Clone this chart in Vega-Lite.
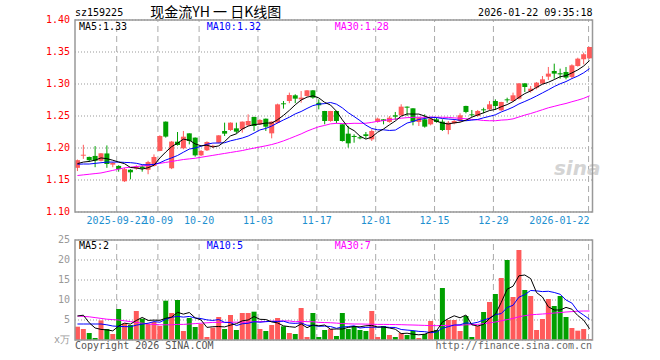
{
  "$schema": "https://vega.github.io/schema/vega-lite/v6.json",
  "width": 527.5,
  "height": 320,
  "autosize": {"type": "none"},
  "padding": {"left": 70, "top": 20, "right": 62.5, "bottom": 20},
  "background": "#FFFFFF",
  "config": {
    "view": {"stroke": null},
    "text": {"font": "DejaVu Sans Mono", "fontSize": 10}
  },
  "datasets": {
    "k": [
      {"i":0,"o":1.169,"h":1.182,"l":1.164,"c":1.181,"v":3.33,"m5":1.1756,"m10":1.1746,"m30":1.157,"v5":6.0,"v10":4.0,"v30":6.0},
      {"i":1,"o":1.188,"h":1.205,"l":1.183,"c":1.1895,"v":2.75,"m5":1.178,"m10":1.175,"m30":1.158,"v5":6.2,"v10":4.0,"v30":5.9},
      {"i":2,"o":1.186,"h":1.1865,"l":1.178,"c":1.181,"v":1.75,"m5":1.179,"m10":1.175,"m30":1.159,"v5":4.3,"v10":4.0,"v30":5.8},
      {"i":3,"o":1.1876,"h":1.203,"l":1.17,"c":1.18,"v":0.5,"m5":1.181,"m10":1.176,"m30":1.16,"v5":3.0,"v10":4.0,"v30":5.6},
      {"i":4,"o":1.18,"h":1.192,"l":1.179,"c":1.1917,"v":4.9,"m5":1.1845,"m10":1.177,"m30":1.161,"v5":2.65,"v10":4.0,"v30":5.4},
      {"i":5,"o":1.1915,"h":1.204,"l":1.169,"c":1.175,"v":2.75,"m5":1.1833,"m10":1.178,"m30":1.163,"v5":2.53,"v10":3.8,"v30":5.2},
      {"i":6,"o":1.174,"h":1.178,"l":1.17,"c":1.1768,"v":1.5,"m5":1.1809,"m10":1.178,"m30":1.165,"v5":2.28,"v10":3.5,"v30":5.1},
      {"i":7,"o":1.172,"h":1.173,"l":1.163,"c":1.167,"v":7.75,"m5":1.1781,"m10":1.178,"m30":1.167,"v5":3.48,"v10":3.4,"v30":5.0},
      {"i":8,"o":1.148,"h":1.169,"l":1.147,"c":1.167,"v":4.17,"m5":1.1755,"m10":1.1775,"m30":1.169,"v5":4.21,"v10":3.35,"v30":4.8},
      {"i":9,"o":1.166,"h":1.167,"l":1.151,"c":1.162,"v":3.75,"m5":1.1696,"m10":1.1771,"m30":1.17,"v5":3.98,"v10":3.32,"v30":4.6},
      {"i":10,"o":1.168,"h":1.173,"l":1.166,"c":1.171,"v":7.25,"m5":1.1688,"m10":1.1761,"m30":1.171,"v5":4.88,"v10":3.71,"v30":4.4},
      {"i":11,"o":1.171,"h":1.173,"l":1.163,"c":1.168,"v":5.33,"m5":1.167,"m10":1.174,"m30":1.172,"v5":5.65,"v10":3.97,"v30":4.2},
      {"i":12,"o":1.166,"h":1.18,"l":1.159,"c":1.178,"v":4.0,"m5":1.1692,"m10":1.1737,"m30":1.173,"v5":4.9,"v10":4.19,"v30":4.0},
      {"i":13,"o":1.172,"h":1.19,"l":1.171,"c":1.186,"v":4.5,"m5":1.173,"m10":1.1743,"m30":1.1745,"v5":4.97,"v10":4.59,"v30":3.9},
      {"i":14,"o":1.1954,"h":1.2198,"l":1.195,"c":1.2188,"v":3.5,"m5":1.1844,"m10":1.177,"m30":1.176,"v5":4.92,"v10":4.45,"v30":3.8},
      {"i":15,"o":1.2412,"h":1.2415,"l":1.2162,"c":1.2178,"v":9.83,"m5":1.1937,"m10":1.1812,"m30":1.1775,"v5":5.43,"v10":5.16,"v30":3.8},
      {"i":16,"o":1.1683,"h":1.211,"l":1.167,"c":1.21,"v":6.75,"m5":1.2021,"m10":1.1846,"m30":1.179,"v5":5.72,"v10":5.68,"v30":3.8},
      {"i":17,"o":1.2099,"h":1.225,"l":1.2037,"c":1.2047,"v":10.0,"m5":1.2075,"m10":1.1883,"m30":1.1805,"v5":6.92,"v10":5.91,"v30":3.9},
      {"i":18,"o":1.1995,"h":1.2266,"l":1.198,"c":1.2177,"v":2.25,"m5":1.2138,"m10":1.1934,"m30":1.182,"v5":6.47,"v10":5.72,"v30":3.9},
      {"i":19,"o":1.2229,"h":1.223,"l":1.2057,"c":1.2109,"v":5.5,"m5":1.2122,"m10":1.1983,"m30":1.183,"v5":6.87,"v10":5.89,"v30":4.0},
      {"i":20,"o":1.2162,"h":1.2165,"l":1.1865,"c":1.1885,"v":3.25,"m5":1.2064,"m10":1.2,"m30":1.184,"v5":5.55,"v10":5.49,"v30":4.1},
      {"i":21,"o":1.1885,"h":1.1969,"l":1.1875,"c":1.1953,"v":4.0,"m5":1.2034,"m10":1.2028,"m30":1.1855,"v5":5.0,"v10":5.36,"v30":4.2},
      {"i":22,"o":1.1964,"h":1.2104,"l":1.1953,"c":1.2094,"v":0.75,"m5":1.2044,"m10":1.2059,"m30":1.187,"v5":3.15,"v10":5.03,"v30":4.3},
      {"i":23,"o":1.2018,"h":1.205,"l":1.2,"c":1.2035,"v":3.08,"m5":1.2015,"m10":1.2077,"m30":1.1885,"v5":3.32,"v10":4.89,"v30":4.4},
      {"i":24,"o":1.2083,"h":1.22,"l":1.2073,"c":1.2198,"v":5.75,"m5":1.2033,"m10":1.2078,"m30":1.19,"v5":3.37,"v10":5.12,"v30":4.4},
      {"i":25,"o":1.2266,"h":1.2396,"l":1.2188,"c":1.2224,"v":2.75,"m5":1.2101,"m10":1.2082,"m30":1.1915,"v5":3.27,"v10":4.41,"v30":4.4},
      {"i":26,"o":1.2281,"h":1.24,"l":1.2266,"c":1.2396,"v":6.25,"m5":1.2189,"m10":1.2112,"m30":1.193,"v5":3.72,"v10":4.36,"v30":4.45},
      {"i":27,"o":1.2307,"h":1.2396,"l":1.2229,"c":1.2255,"v":2.5,"m5":1.2222,"m10":1.2133,"m30":1.1945,"v5":4.07,"v10":3.61,"v30":4.45},
      {"i":28,"o":1.2292,"h":1.2415,"l":1.224,"c":1.2412,"v":6.75,"m5":1.2297,"m10":1.2156,"m30":1.196,"v5":4.8,"v10":4.06,"v30":4.45},
      {"i":29,"o":1.2354,"h":1.2526,"l":1.2344,"c":1.2422,"v":6.75,"m5":1.2342,"m10":1.2187,"m30":1.198,"v5":5.0,"v10":4.18,"v30":4.46},
      {"i":30,"o":1.2484,"h":1.249,"l":1.2266,"c":1.2344,"v":7.08,"m5":1.2366,"m10":1.2233,"m30":1.1998,"v5":5.87,"v10":4.57,"v30":4.59},
      {"i":31,"o":1.237,"h":1.245,"l":1.236,"c":1.2438,"v":2.75,"m5":1.2374,"m10":1.2282,"m30":1.2016,"v5":5.17,"v10":4.44,"v30":4.59},
      {"i":32,"o":1.2458,"h":1.246,"l":1.2266,"c":1.2333,"v":2.25,"m5":1.239,"m10":1.2306,"m30":1.2034,"v5":5.12,"v10":4.59,"v30":4.6},
      {"i":33,"o":1.2229,"h":1.2415,"l":1.2151,"c":1.2412,"v":3.75,"m5":1.239,"m10":1.2343,"m30":1.2054,"v5":4.52,"v10":4.66,"v30":4.71},
      {"i":34,"o":1.2396,"h":1.2693,"l":1.2385,"c":1.2682,"v":5.5,"m5":1.2442,"m10":1.2392,"m30":1.208,"v5":4.27,"v10":4.63,"v30":4.73},
      {"i":35,"o":1.2698,"h":1.2734,"l":1.2615,"c":1.2683,"v":3.42,"m5":1.251,"m10":1.2438,"m30":1.2111,"v5":3.53,"v10":4.7,"v30":4.76},
      {"i":36,"o":1.2734,"h":1.2865,"l":1.27,"c":1.2828,"v":1.75,"m5":1.2588,"m10":1.2481,"m30":1.2146,"v5":3.33,"v10":4.25,"v30":4.76},
      {"i":37,"o":1.2823,"h":1.284,"l":1.27,"c":1.2771,"v":1.5,"m5":1.2675,"m10":1.2533,"m30":1.2183,"v5":3.18,"v10":4.15,"v30":4.56},
      {"i":38,"o":1.276,"h":1.289,"l":1.2708,"c":1.2787,"v":8.0,"m5":1.275,"m10":1.257,"m30":1.222,"v5":4.03,"v10":4.28,"v30":4.68},
      {"i":39,"o":1.2813,"h":1.2905,"l":1.2802,"c":1.2901,"v":0.75,"m5":1.2794,"m10":1.2618,"m30":1.2263,"v5":3.08,"v10":3.68,"v30":4.58},
      {"i":40,"o":1.2901,"h":1.2905,"l":1.277,"c":1.2787,"v":6.75,"m5":1.2815,"m10":1.2662,"m30":1.2299,"v5":3.75,"v10":3.64,"v30":4.57},
      {"i":41,"o":1.2708,"h":1.276,"l":1.2604,"c":1.2667,"v":0.75,"m5":1.2783,"m10":1.2685,"m30":1.2332,"v5":3.55,"v10":3.44,"v30":4.41},
      {"i":42,"o":1.2578,"h":1.258,"l":1.237,"c":1.2422,"v":2.5,"m5":1.2713,"m10":1.2694,"m30":1.2353,"v5":3.75,"v10":3.47,"v30":4.36},
      {"i":43,"o":1.2422,"h":1.258,"l":1.241,"c":1.2578,"v":2.75,"m5":1.2671,"m10":1.2711,"m30":1.2377,"v5":2.7,"v10":3.37,"v30":4.31},
      {"i":44,"o":1.2578,"h":1.258,"l":1.2385,"c":1.2422,"v":1.0,"m5":1.2575,"m10":1.2685,"m30":1.2385,"v5":2.75,"v10":2.92,"v30":4.22},
      {"i":45,"o":1.237,"h":1.2372,"l":1.21,"c":1.2109,"v":6.75,"m5":1.244,"m10":1.2627,"m30":1.2382,"v5":2.75,"v10":3.25,"v30":4.12},
      {"i":46,"o":1.2224,"h":1.2344,"l":1.2005,"c":1.2073,"v":2.75,"m5":1.2321,"m10":1.2552,"m30":1.2381,"v5":3.15,"v10":3.35,"v30":4.05},
      {"i":47,"o":1.2188,"h":1.2214,"l":1.2083,"c":1.2172,"v":3.5,"m5":1.2271,"m10":1.2492,"m30":1.2386,"v5":3.35,"v10":3.55,"v30":4.0},
      {"i":48,"o":1.2167,"h":1.2188,"l":1.2136,"c":1.2151,"v":2.5,"m5":1.2185,"m10":1.2428,"m30":1.2385,"v5":3.3,"v10":3.0,"v30":4.0},
      {"i":49,"o":1.2214,"h":1.225,"l":1.2146,"c":1.2188,"v":2.25,"m5":1.2139,"m10":1.2357,"m30":1.2387,"v5":3.55,"v10":3.15,"v30":3.97},
      {"i":50,"o":1.2135,"h":1.2292,"l":1.211,"c":1.2266,"v":7.25,"m5":1.217,"m10":1.2305,"m30":1.24,"v5":3.65,"v10":3.2,"v30":3.95},
      {"i":51,"o":1.2407,"h":1.2474,"l":1.2396,"c":1.2459,"v":0.75,"m5":1.2247,"m10":1.2284,"m30":1.2417,"v5":3.25,"v10":3.2,"v30":3.9},
      {"i":52,"o":1.2448,"h":1.245,"l":1.237,"c":1.2422,"v":3.5,"m5":1.2297,"m10":1.2284,"m30":1.2428,"v5":3.25,"v10":3.3,"v30":3.9},
      {"i":53,"o":1.2407,"h":1.25,"l":1.2396,"c":1.2474,"v":1.25,"m5":1.2362,"m10":1.2274,"m30":1.2443,"v5":3.0,"v10":3.15,"v30":3.88},
      {"i":54,"o":1.2511,"h":1.2563,"l":1.2438,"c":1.249,"v":0.75,"m5":1.2422,"m10":1.228,"m30":1.2452,"v5":2.7,"v10":3.13,"v30":3.85},
      {"i":55,"o":1.2511,"h":1.2683,"l":1.25,"c":1.2646,"v":1.75,"m5":1.2498,"m10":1.2334,"m30":1.2466,"v5":1.6,"v10":2.63,"v30":3.83},
      {"i":56,"o":1.2646,"h":1.265,"l":1.25,"c":1.263,"v":1.25,"m5":1.2532,"m10":1.239,"m30":1.2474,"v5":1.7,"v10":2.48,"v30":3.78},
      {"i":57,"o":1.262,"h":1.2622,"l":1.2354,"c":1.2412,"v":2.25,"m5":1.253,"m10":1.2414,"m30":1.2479,"v5":1.45,"v10":2.35,"v30":3.75},
      {"i":58,"o":1.2407,"h":1.248,"l":1.2344,"c":1.2474,"v":0.5,"m5":1.253,"m10":1.2446,"m30":1.2481,"v5":1.3,"v10":2.15,"v30":3.7},
      {"i":59,"o":1.2448,"h":1.2526,"l":1.2318,"c":1.2334,"v":1.5,"m5":1.2499,"m10":1.2461,"m30":1.2479,"v5":1.45,"v10":2.08,"v30":3.65},
      {"i":60,"o":1.237,"h":1.2474,"l":1.2354,"c":1.2459,"v":4.75,"m5":1.2462,"m10":1.248,"m30":1.2482,"v5":2.05,"v10":1.83,"v30":3.6},
      {"i":61,"o":1.2448,"h":1.2474,"l":1.2396,"c":1.2406,"v":2.5,"m5":1.2417,"m10":1.2475,"m30":1.2481,"v5":2.3,"v10":2.0,"v30":3.58},
      {"i":62,"o":1.2412,"h":1.2448,"l":1.2266,"c":1.2281,"v":13.0,"m5":1.2391,"m10":1.2461,"m30":1.248,"v5":4.45,"v10":2.95,"v30":3.62},
      {"i":63,"o":1.2281,"h":1.2422,"l":1.2214,"c":1.2396,"v":5.0,"m5":1.2375,"m10":1.2453,"m30":1.2479,"v5":5.35,"v10":3.33,"v30":3.65},
      {"i":64,"o":1.2386,"h":1.2448,"l":1.237,"c":1.2422,"v":5.0,"m5":1.2393,"m10":1.2446,"m30":1.247,"v5":6.05,"v10":3.75,"v30":3.66},
      {"i":65,"o":1.2422,"h":1.2542,"l":1.2406,"c":1.2511,"v":2.25,"m5":1.2403,"m10":1.2433,"m30":1.2465,"v5":5.55,"v10":3.8,"v30":3.67},
      {"i":66,"o":1.2657,"h":1.266,"l":1.2542,"c":1.2563,"v":6.0,"m5":1.2435,"m10":1.2426,"m30":1.2456,"v5":6.25,"v10":4.28,"v30":3.8},
      {"i":67,"o":1.2526,"h":1.2594,"l":1.249,"c":1.2511,"v":0.75,"m5":1.2481,"m10":1.2436,"m30":1.2447,"v5":3.8,"v10":4.13,"v30":3.85},
      {"i":68,"o":1.25,"h":1.2594,"l":1.249,"c":1.2578,"v":3.5,"m5":1.2517,"m10":1.2446,"m30":1.244,"v5":3.5,"v10":4.43,"v30":3.9},
      {"i":69,"o":1.2604,"h":1.263,"l":1.2542,"c":1.2589,"v":7.0,"m5":1.255,"m10":1.2472,"m30":1.243,"v5":3.9,"v10":4.98,"v30":4.1},
      {"i":70,"o":1.2604,"h":1.2734,"l":1.2589,"c":1.2682,"v":9.5,"m5":1.2585,"m10":1.2494,"m30":1.2426,"v5":5.35,"v10":5.45,"v30":4.3},
      {"i":71,"o":1.2734,"h":1.276,"l":1.2594,"c":1.2656,"v":11.5,"m5":1.2603,"m10":1.2519,"m30":1.2426,"v5":6.45,"v10":6.35,"v30":4.5},
      {"i":72,"o":1.2589,"h":1.2722,"l":1.258,"c":1.2719,"v":15.5,"m5":1.2645,"m10":1.2563,"m30":1.2436,"v5":9.4,"v10":6.6,"v30":4.8},
      {"i":73,"o":1.276,"h":1.2786,"l":1.2708,"c":1.2745,"v":20.0,"m5":1.2678,"m10":1.2598,"m30":1.2441,"v5":12.7,"v10":8.1,"v30":5.1},
      {"i":74,"o":1.2734,"h":1.2865,"l":1.2724,"c":1.2823,"v":10.75,"m5":1.2725,"m10":1.2638,"m30":1.2455,"v5":13.45,"v10":8.68,"v30":5.4},
      {"i":75,"o":1.2771,"h":1.3011,"l":1.276,"c":1.301,"v":22.5,"m5":1.2791,"m10":1.2688,"m30":1.2485,"v5":16.05,"v10":10.7,"v30":5.8},
      {"i":76,"o":1.301,"h":1.3012,"l":1.2875,"c":1.2953,"v":12.5,"m5":1.285,"m10":1.2727,"m30":1.2514,"v5":16.25,"v10":11.35,"v30":6.08},
      {"i":77,"o":1.289,"h":1.2969,"l":1.2865,"c":1.2927,"v":11.0,"m5":1.2892,"m10":1.2768,"m30":1.2539,"v5":15.35,"v10":12.38,"v30":6.3},
      {"i":78,"o":1.2943,"h":1.3031,"l":1.2917,"c":1.3021,"v":2.5,"m5":1.2947,"m10":1.2813,"m30":1.2568,"v5":11.85,"v10":12.28,"v30":6.4},
      {"i":79,"o":1.3005,"h":1.3125,"l":1.2995,"c":1.3073,"v":5.25,"m5":1.2997,"m10":1.2861,"m30":1.2598,"v5":10.75,"v10":12.1,"v30":6.5},
      {"i":80,"o":1.3115,"h":1.3266,"l":1.3063,"c":1.3162,"v":10.25,"m5":1.3027,"m10":1.2909,"m30":1.2628,"v5":8.3,"v10":12.18,"v30":6.6},
      {"i":81,"o":1.3203,"h":1.3318,"l":1.3083,"c":1.3162,"v":8.5,"m5":1.3069,"m10":1.296,"m30":1.2651,"v5":7.5,"v10":11.88,"v30":6.75},
      {"i":82,"o":1.3168,"h":1.324,"l":1.3083,"c":1.3151,"v":11.0,"m5":1.3114,"m10":1.3003,"m30":1.2675,"v5":7.5,"v10":11.43,"v30":6.85},
      {"i":83,"o":1.3188,"h":1.3266,"l":1.3073,"c":1.31,"v":5.75,"m5":1.313,"m10":1.3038,"m30":1.2696,"v5":8.15,"v10":10.0,"v30":7.0},
      {"i":84,"o":1.311,"h":1.3307,"l":1.3083,"c":1.3292,"v":3.0,"m5":1.3173,"m10":1.3085,"m30":1.2723,"v5":7.7,"v10":9.23,"v30":7.1},
      {"i":85,"o":1.3281,"h":1.3411,"l":1.3271,"c":1.3396,"v":2.33,"m5":1.322,"m10":1.3124,"m30":1.2748,"v5":6.12,"v10":7.21,"v30":7.2},
      {"i":86,"o":1.3385,"h":1.349,"l":1.3307,"c":1.3464,"v":2.75,"m5":1.3281,"m10":1.3175,"m30":1.2776,"v5":4.97,"v10":6.23,"v30":7.25},
      {"i":87,"o":1.3401,"h":1.358,"l":1.3396,"c":1.3578,"v":0.25,"m5":1.3366,"m10":1.324,"m30":1.2815,"v5":2.82,"v10":5.16,"v30":7.25}
    ],
    "g": [
      {"i":6.6667,"lab":"2025-09-22"},
      {"i":13.6667,"lab":"10-09"},
      {"i":20.6667,"lab":"10-20"},
      {"i":30.6667,"lab":"11-03"},
      {"i":40.6667,"lab":"11-17"},
      {"i":50.6667,"lab":"12-01"},
      {"i":60.6667,"lab":"12-15"},
      {"i":70.6667,"lab":"12-29"},
      {"i":86.8333,"lab":"2026-01-22"}
    ],
    "py": [{"p":1.1},{"p":1.15},{"p":1.2},{"p":1.25},{"p":1.3},{"p":1.35},{"p":1.4}],
    "vy": [{"q":0,"lab":"x万"},{"q":5,"lab":"5"},{"q":10,"lab":"10"},{"q":15,"lab":"15"},{"q":20,"lab":"20"},{"q":25,"lab":"25"}]
  },
  "data": {"name": "k"},
  "layer": [
    {
      "layer": [
        {
          "data": {"name": "py"},
          "mark": {"type": "rule", "color": "#999999", "strokeDash": [1, 2], "strokeWidth": 1},
          "encoding": {
            "x": {"datum": -0.41667, "type": "quantitative", "axis": null},
            "x2": {"datum": 87.5},
            "y": {"field": "p", "type": "quantitative", "axis": null, "scale": {"domain": [1.1, 1.4], "range": [192, 0], "nice": false, "zero": false}}
          }
        },
        {
          "data": {"name": "py"},
          "mark": {"type": "text", "align": "right", "baseline": "middle", "dx": -5, "color": "#FF0000"},
          "encoding": {
            "x": {"datum": -0.41667, "type": "quantitative", "axis": null},
            "y": {"field": "p", "type": "quantitative", "axis": null},
            "text": {"field": "p", "type": "quantitative", "format": ".2f"}
          }
        },
        {
          "data": {"name": "g"},
          "mark": {"type": "rule", "color": "#AAAAAA", "strokeDash": [6, 4], "strokeWidth": 1},
          "encoding": {
            "x": {"field": "i", "type": "quantitative", "axis": null, "scale": {"domain": [-0.41667, 87.5], "nice": false, "zero": false}},
            "y": {"datum": 1.1, "type": "quantitative", "axis": null},
            "y2": {"datum": 1.4}
          }
        },
        {
          "data": {"values": [{"t": "sina"}]},
          "mark": {"type": "text", "text": "sina", "font": "DejaVu Sans", "fontStyle": "italic", "fontWeight": "bold", "fontSize": 20, "color": "#D4D4D4", "align": "center", "baseline": "middle"},
          "encoding": {
            "x": {"datum": 84.9, "type": "quantitative", "axis": null},
            "y": {"datum": 1.167, "type": "quantitative", "axis": null}
          }
        },
        {
          "mark": {"type": "rule", "strokeWidth": 1},
          "encoding": {
            "x": {"field": "i", "type": "quantitative", "axis": null, "scale": {"domain": [-0.41667, 87.5], "nice": false, "zero": false}},
            "y": {"field": "l", "type": "quantitative", "axis": null, "scale": {"domain": [1.1, 1.4], "range": [192, 0], "nice": false, "zero": false}},
            "y2": {"field": "h"},
            "color": {"condition": {"test": "datum.c >= datum.o", "value": "#FF5A5A"}, "value": "#00A000"}
          }
        },
        {
          "mark": {"type": "bar", "width": 5},
          "encoding": {
            "x": {"field": "i", "type": "quantitative", "axis": null, "scale": {"domain": [-0.41667, 87.5], "nice": false, "zero": false}},
            "y": {"field": "o", "type": "quantitative", "axis": null, "scale": {"domain": [1.1, 1.4], "range": [192, 0], "nice": false, "zero": false}},
            "y2": {"field": "c"},
            "color": {"condition": {"test": "datum.c >= datum.o", "value": "#FF5A5A"}, "value": "#00A000"}
          }
        },
        {
          "mark": {"type": "line", "color": "#FF00FF", "strokeWidth": 1},
          "encoding": {
            "x": {"field": "i", "type": "quantitative", "axis": null, "scale": {"domain": [-0.41667, 87.5], "nice": false, "zero": false}},
            "y": {"field": "m30", "type": "quantitative", "axis": null, "scale": {"domain": [1.1, 1.4], "range": [192, 0], "nice": false, "zero": false}}
          }
        },
        {
          "mark": {"type": "line", "color": "#0000FF", "strokeWidth": 1},
          "encoding": {
            "x": {"field": "i", "type": "quantitative", "axis": null, "scale": {"domain": [-0.41667, 87.5], "nice": false, "zero": false}},
            "y": {"field": "m10", "type": "quantitative", "axis": null, "scale": {"domain": [1.1, 1.4], "range": [192, 0], "nice": false, "zero": false}}
          }
        },
        {
          "mark": {"type": "line", "color": "#000000", "strokeWidth": 1},
          "encoding": {
            "x": {"field": "i", "type": "quantitative", "axis": null, "scale": {"domain": [-0.41667, 87.5], "nice": false, "zero": false}},
            "y": {"field": "m5", "type": "quantitative", "axis": null, "scale": {"domain": [1.1, 1.4], "range": [192, 0], "nice": false, "zero": false}}
          }
        },
        {
          "data": {"values": [{"t": "frame"}]},
          "mark": {"type": "rect", "filled": false, "color": "#999999", "strokeWidth": 1.5},
          "encoding": {
            "x": {"datum": -0.41667, "type": "quantitative", "axis": null},
            "x2": {"datum": 87.5},
            "y": {"datum": 1.1, "type": "quantitative", "axis": null},
            "y2": {"datum": 1.4}
          }
        },
        {
          "data": {"values": [{"t": "sz159225"}]},
          "mark": {"type": "text", "align": "left", "baseline": "middle", "color": "#000000"},
          "encoding": {"x": {"datum": -0.41667, "type": "quantitative", "axis": null}, "y": {"datum": 1.411, "type": "quantitative", "axis": null}, "text": {"field": "t"}}
        },
        {
          "data": {"values": [{"t": "现金流YH 一 日K线图"}]},
          "mark": {"type": "text", "font": "Noto Sans CJK SC", "fontSize": 14, "align": "center", "baseline": "middle", "color": "#000000"},
          "encoding": {"x": {"datum": 23.5, "type": "quantitative", "axis": null}, "y": {"datum": 1.411, "type": "quantitative", "axis": null}, "text": {"field": "t"}}
        },
        {
          "data": {"values": [{"t": "2026-01-22 09:35:18"}]},
          "mark": {"type": "text", "align": "right", "baseline": "middle", "color": "#000000"},
          "encoding": {"x": {"datum": 87.5, "type": "quantitative", "axis": null}, "y": {"datum": 1.411, "type": "quantitative", "axis": null}, "text": {"field": "t"}}
        },
        {
          "data": {"values": [{"t": "MA5:1.33"}]},
          "mark": {"type": "text", "align": "left", "baseline": "middle", "color": "#000000"},
          "encoding": {"x": {"datum": 0.25, "type": "quantitative", "axis": null}, "y": {"datum": 1.3898, "type": "quantitative", "axis": null}, "text": {"field": "t"}}
        },
        {
          "data": {"values": [{"t": "MA10:1.32"}]},
          "mark": {"type": "text", "align": "left", "baseline": "middle", "color": "#0000FF"},
          "encoding": {"x": {"datum": 21.97, "type": "quantitative", "axis": null}, "y": {"datum": 1.3898, "type": "quantitative", "axis": null}, "text": {"field": "t"}}
        },
        {
          "data": {"values": [{"t": "MA30:1.28"}]},
          "mark": {"type": "text", "align": "left", "baseline": "middle", "color": "#FF00FF"},
          "encoding": {"x": {"datum": 43.7, "type": "quantitative", "axis": null}, "y": {"datum": 1.3898, "type": "quantitative", "axis": null}, "text": {"field": "t"}}
        },
        {
          "data": {"name": "g"},
          "transform": [{"filter": "datum.i < 80"}],
          "mark": {"type": "text", "align": "center", "baseline": "middle", "color": "#1E90D0"},
          "encoding": {
            "x": {"field": "i", "type": "quantitative", "axis": null},
            "y": {"datum": 1.0867, "type": "quantitative", "axis": null},
            "text": {"field": "lab"}
          }
        },
        {
          "data": {"name": "g"},
          "transform": [{"filter": "datum.i > 80"}],
          "mark": {"type": "text", "align": "right", "baseline": "middle", "color": "#1E90D0", "dx": 1},
          "encoding": {
            "x": {"field": "i", "type": "quantitative", "axis": null},
            "y": {"datum": 1.0867, "type": "quantitative", "axis": null},
            "text": {"field": "lab"}
          }
        }
      ]
    },
    {
      "layer": [
        {
          "data": {"name": "vy"},
          "mark": {"type": "rule", "color": "#999999", "strokeDash": [1, 2], "strokeWidth": 1},
          "encoding": {
            "x": {"datum": -0.41667, "type": "quantitative", "axis": null},
            "x2": {"datum": 87.5},
            "y": {"field": "q", "type": "quantitative", "axis": null, "scale": {"domain": [0, 25], "range": [320, 220], "nice": false, "zero": false}}
          }
        },
        {
          "data": {"name": "vy"},
          "mark": {"type": "text", "align": "right", "baseline": "middle", "dx": -5, "color": "#999999"},
          "encoding": {
            "x": {"datum": -0.41667, "type": "quantitative", "axis": null},
            "y": {"field": "q", "type": "quantitative", "axis": null},
            "text": {"field": "lab"}
          }
        },
        {
          "data": {"name": "g"},
          "mark": {"type": "rule", "color": "#AAAAAA", "strokeDash": [6, 4], "strokeWidth": 1},
          "encoding": {
            "x": {"field": "i", "type": "quantitative", "axis": null},
            "y": {"datum": 0, "type": "quantitative", "axis": null},
            "y2": {"datum": 25}
          }
        },
        {
          "mark": {"type": "bar", "width": 5},
          "encoding": {
            "x": {"field": "i", "type": "quantitative", "axis": null, "scale": {"domain": [-0.41667, 87.5], "nice": false, "zero": false}},
            "y": {"field": "v", "type": "quantitative", "axis": null, "scale": {"domain": [0, 25], "range": [320, 220], "nice": false, "zero": false}},
            "y2": {"datum": 0},
            "color": {"condition": {"test": "datum.c >= datum.o", "value": "#FF5A5A"}, "value": "#00A000"}
          }
        },
        {
          "mark": {"type": "line", "color": "#FF00FF", "strokeWidth": 1},
          "encoding": {
            "x": {"field": "i", "type": "quantitative", "axis": null, "scale": {"domain": [-0.41667, 87.5], "nice": false, "zero": false}},
            "y": {"field": "v30", "type": "quantitative", "axis": null, "scale": {"domain": [0, 25], "range": [320, 220], "nice": false, "zero": false}}
          }
        },
        {
          "mark": {"type": "line", "color": "#0000FF", "strokeWidth": 1},
          "encoding": {
            "x": {"field": "i", "type": "quantitative", "axis": null, "scale": {"domain": [-0.41667, 87.5], "nice": false, "zero": false}},
            "y": {"field": "v10", "type": "quantitative", "axis": null, "scale": {"domain": [0, 25], "range": [320, 220], "nice": false, "zero": false}}
          }
        },
        {
          "mark": {"type": "line", "color": "#000000", "strokeWidth": 1},
          "encoding": {
            "x": {"field": "i", "type": "quantitative", "axis": null, "scale": {"domain": [-0.41667, 87.5], "nice": false, "zero": false}},
            "y": {"field": "v5", "type": "quantitative", "axis": null, "scale": {"domain": [0, 25], "range": [320, 220], "nice": false, "zero": false}}
          }
        },
        {
          "data": {"values": [{"t": "frame"}]},
          "mark": {"type": "rect", "filled": false, "color": "#999999", "strokeWidth": 1.5},
          "encoding": {
            "x": {"datum": -0.41667, "type": "quantitative", "axis": null},
            "x2": {"datum": 87.5},
            "y": {"datum": 0, "type": "quantitative", "axis": null},
            "y2": {"datum": 25}
          }
        },
        {
          "data": {"values": [{"t": "MA5:2"}]},
          "mark": {"type": "text", "align": "left", "baseline": "middle", "color": "#000000"},
          "encoding": {"x": {"datum": 0.25, "type": "quantitative", "axis": null}, "y": {"datum": 23.43, "type": "quantitative", "axis": null}, "text": {"field": "t"}}
        },
        {
          "data": {"values": [{"t": "MA10:5"}]},
          "mark": {"type": "text", "align": "left", "baseline": "middle", "color": "#0000FF"},
          "encoding": {"x": {"datum": 21.97, "type": "quantitative", "axis": null}, "y": {"datum": 23.43, "type": "quantitative", "axis": null}, "text": {"field": "t"}}
        },
        {
          "data": {"values": [{"t": "MA30:7"}]},
          "mark": {"type": "text", "align": "left", "baseline": "middle", "color": "#FF00FF"},
          "encoding": {"x": {"datum": 43.7, "type": "quantitative", "axis": null}, "y": {"datum": 23.43, "type": "quantitative", "axis": null}, "text": {"field": "t"}}
        },
        {
          "data": {"values": [{"t": "Copyright 2026 SINA.COM"}]},
          "mark": {"type": "text", "align": "left", "baseline": "middle", "color": "#555555"},
          "encoding": {"x": {"datum": -0.41667, "type": "quantitative", "axis": null}, "y": {"datum": -1.5, "type": "quantitative", "axis": null}, "text": {"field": "t"}}
        },
        {
          "data": {"values": [{"t": "http://finance.sina.com.cn"}]},
          "mark": {"type": "text", "align": "right", "baseline": "middle", "color": "#666666"},
          "encoding": {"x": {"datum": 87.42, "type": "quantitative", "axis": null}, "y": {"datum": -1.5, "type": "quantitative", "axis": null}, "text": {"field": "t"}}
        }
      ]
    }
  ],
  "resolve": {"scale": {"y": "independent"}}
}
